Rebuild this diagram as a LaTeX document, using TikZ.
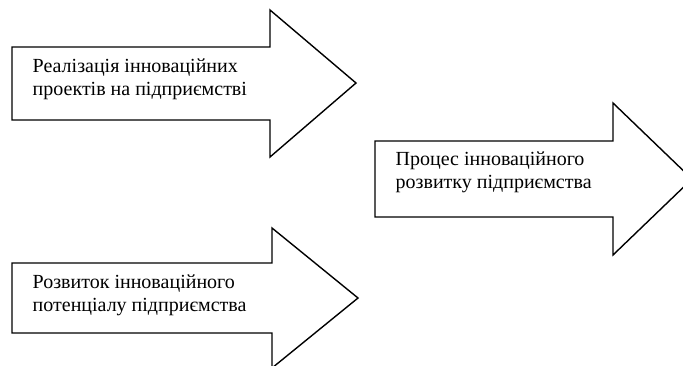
\documentclass[tikz,border=0pt]{standalone}
\usepackage{fontspec}
\setmainfont{Liberation Serif}
\begin{document}
\begin{tikzpicture}[x=1pt, y=-1pt, line width=1.4pt, line join=miter, block arrow/.style={draw, fill=white}, arrow text/.style={anchor=west, inner sep=0pt, align=left, font=\fontsize{20}{23}\selectfont}]
\useasboundingbox (0,0) rectangle (683,365);
\clip (0,0) rectangle (683,365);
\begin{scope}
\draw[block arrow] (12,47) -- (270,47) -- (270,10) -- (356,83) -- (270,157) -- (270,120) -- (12,120) -- cycle;
\draw[block arrow] (375,141) -- (613,141) -- (613,103) -- (692,179) -- (613,255) -- (613,217) -- (375,217) -- cycle;
\draw[block arrow] (12,263) -- (272,263) -- (272,228) -- (358,298) -- (272,368) -- (272,333) -- (12,333) -- cycle;
\end{scope}
\begin{scope}[every node/.style={arrow text}]
\node (t1) at (32,79) {Реалізація інноваційних\\проектів на підприємстві};
\node (t2) at (395,172) {Процес інноваційного\\розвитку підприємства};
\node (t3) at (32,295) {Розвиток інноваційного\\потенціалу підприємства};
\end{scope}
\end{tikzpicture}
\end{document}
